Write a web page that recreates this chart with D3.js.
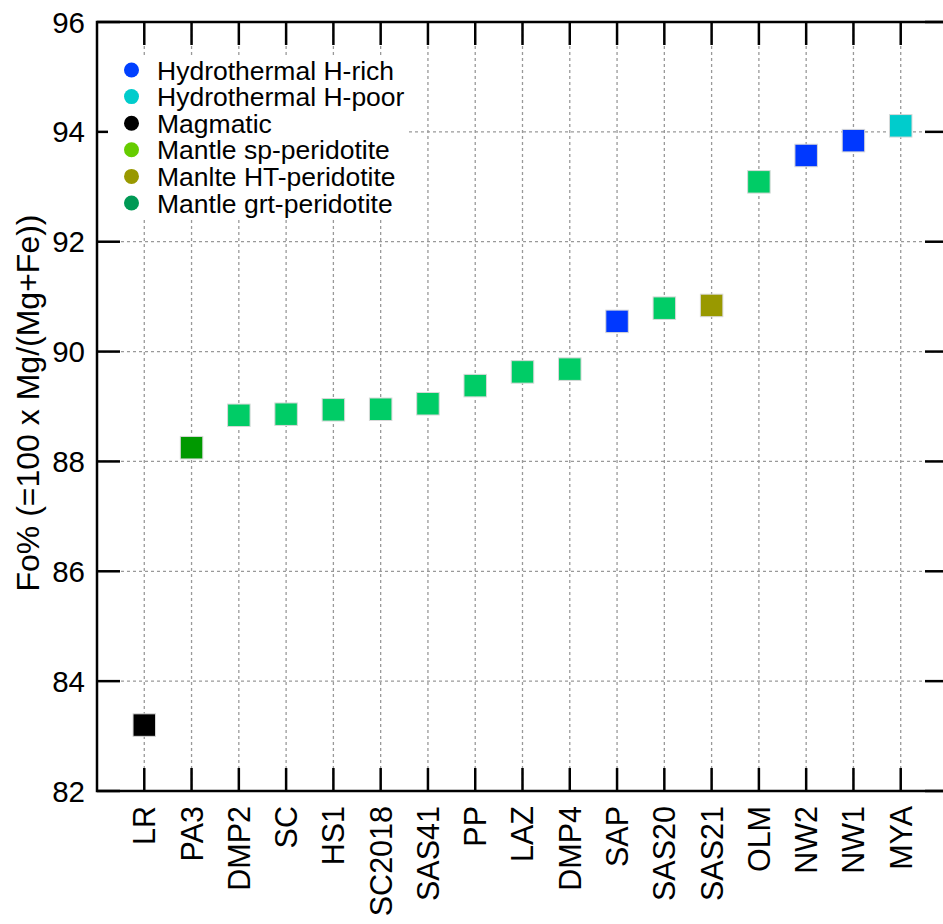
<!DOCTYPE html>
<html>
<head>
<meta charset="utf-8">
<script src="https://cdn.jsdelivr.net/npm/d3@7"></script>
<style>
  html, body { margin: 0; padding: 0; background: #fff; }
  svg { display: block; font-family: "Liberation Sans", Arial, Helvetica, sans-serif; }
</style>
</head>
<body>
<svg id="chart" width="943" height="924"></svg>
<script>
// Olivine forsterite content by sample
const samples = ["LR", "PA3", "DMP2", "SC", "HS1", "SC2018", "SAS41", "PP", "LAZ", "DMP4",
                 "SAP", "SAS20", "SAS21", "OLM", "NW2", "NW1", "MYA"];
const foValues = [83.2, 88.25, 88.84, 88.86, 88.94, 88.95, 89.05, 89.38, 89.63, 89.68,
                  90.55, 90.79, 90.84, 93.09, 93.57, 93.84, 94.11];
const sampleGroups = ["mag", "sp", "grt", "grt", "grt", "grt", "grt", "grt", "grt", "grt",
                      "hrich", "grt", "ht", "grt", "hrich", "hrich", "hpoor"];

const legendKeys = ["hrich", "hpoor", "mag", "sp", "ht", "grt"];
const legendLabels = ["Hydrothermal H-rich", "Hydrothermal H-poor", "Magmatic",
                      "Mantle sp-peridotite", "Manlte HT-peridotite", "Mantle grt-peridotite"];
const yTicks = [82, 84, 86, 88, 90, 92, 94, 96];
const yTitle = "Fo% (=100 x Mg/(Mg+Fe))";

// colours
const legendColor = { hrich: "#0040ff", hpoor: "#00cccc", mag: "#000000",
                      sp: "#66cc00", ht: "#999900", grt: "#009955" };
const markerColor = { hrich: "#0038ff", hpoor: "#00cccc", mag: "#000000",
                      sp: "#009900", ht: "#999900", grt: "#00cc66" };

const svg = d3.select("#chart");
const plot = { left: 97, right: 948, top: 22, bottom: 791 };

const x = d3.scaleLinear().domain([-1, samples.length]).range([plot.left, plot.right]);
const y = d3.scaleLinear().domain([82, 96]).range([plot.bottom, plot.top]);

const tickLen = 23;
const gridColor = "#999";

// grid
const grid = svg.append("g");
grid.selectAll("line.vg").data(samples).join("line")
  .attr("x1", (d, i) => x(i)).attr("x2", (d, i) => x(i))
  .attr("y1", plot.top).attr("y2", plot.bottom)
  .attr("stroke", gridColor).attr("stroke-width", 1.3).attr("stroke-dasharray", "3,3");
grid.selectAll("line.hg").data(yTicks.slice(1, -1)).join("line")
  .attr("x1", plot.left).attr("x2", plot.right)
  .attr("y1", d => y(d)).attr("y2", d => y(d))
  .attr("stroke", gridColor).attr("stroke-width", 1.3).attr("stroke-dasharray", "3,3");

// ticks on all four sides, pointing inward
const axes = svg.append("g").attr("stroke", "#000").attr("stroke-width", 2.5);
axes.selectAll("line.bt").data(samples).join("line")
  .attr("x1", (d, i) => x(i)).attr("x2", (d, i) => x(i))
  .attr("y1", plot.bottom).attr("y2", plot.bottom - tickLen);
axes.selectAll("line.tt").data(samples).join("line")
  .attr("x1", (d, i) => x(i)).attr("x2", (d, i) => x(i))
  .attr("y1", plot.top).attr("y2", plot.top + tickLen);
axes.selectAll("line.lt").data(yTicks).join("line")
  .attr("x1", plot.left).attr("x2", plot.left + tickLen)
  .attr("y1", d => y(d)).attr("y2", d => y(d));
axes.selectAll("line.rt").data(yTicks).join("line")
  .attr("x1", plot.right).attr("x2", plot.right - tickLen)
  .attr("y1", d => y(d)).attr("y2", d => y(d));

// legend box (white, hides grid and ticks behind it)
svg.append("rect").attr("x", 108).attr("y", 56).attr("width", 300).attr("height", 163)
  .attr("fill", "#fff");
const legend = svg.append("g");
legendKeys.forEach((k, i) => {
  const cy = 70 + i * 26.6;
  legend.append("circle").attr("cx", 131.5).attr("cy", cy).attr("r", 7.5)
    .attr("fill", legendColor[k]);
  legend.append("text").attr("x", 157).attr("y", cy).attr("dy", "0.36em")
    .attr("font-size", 26.5).attr("fill", "#000").text(legendLabels[i]);
});

// frame
svg.append("rect").attr("x", plot.left).attr("y", plot.top)
  .attr("width", plot.right - plot.left).attr("height", plot.bottom - plot.top)
  .attr("fill", "none").attr("stroke", "#000").attr("stroke-width", 2.5);

// markers
const sz = 22.5;
svg.append("g").selectAll("rect").data(foValues).join("rect")
  .attr("x", (d, i) => x(i) - sz / 2).attr("y", d => y(d) - sz / 2)
  .attr("width", sz).attr("height", sz)
  .attr("fill", (d, i) => markerColor[sampleGroups[i]])
  .attr("stroke", "#d8d8d8").attr("stroke-width", 1);

// y tick labels
svg.append("g").selectAll("text").data(yTicks).join("text")
  .attr("x", 85).attr("y", d => y(d)).attr("dy", "0.36em")
  .attr("text-anchor", "end").attr("font-size", 29.5).text(d => d);

// x tick labels (rotated)
svg.append("g").selectAll("text").data(samples).join("text")
  .attr("transform", (d, i) => `translate(${x(i)},806) rotate(-90)`)
  .attr("dy", "0.36em").attr("text-anchor", "end").attr("font-size", 30.5).text(d => d);

// y-axis title
svg.append("text")
  .attr("transform", "translate(27,403) rotate(-90)")
  .attr("dy", "0.36em").attr("text-anchor", "middle").attr("font-size", 32)
  .text(yTitle);
</script>
</body>
</html>
